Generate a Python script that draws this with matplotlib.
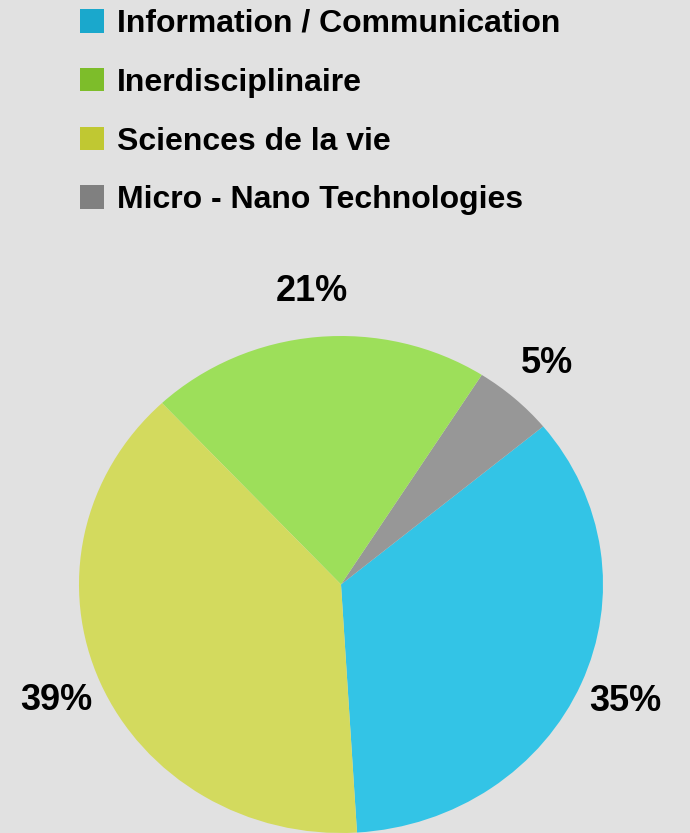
import matplotlib.pyplot as plt
from matplotlib.patches import Patch

plt.rcParams['font.family'] = ['Liberation Sans', 'DejaVu Sans']
plt.rcParams['font.weight'] = 'bold'

# legend order
categories = ["Information / Communication", "Inerdisciplinaire",
              "Sciences de la vie", "Micro - Nano Technologies"]
shares = [35, 21, 39, 5]
legendColors = ["#1aa8cc", "#7dbd2a", "#c0c832", "#808080"]
pieColors = ["#33c4e6", "#9ddf5a", "#d3da5e", "#979797"]

# order of the slices going round the pie (counterclockwise)
pieOrder = [0, 3, 1, 2]

fig = plt.figure(figsize=(6.9, 8.33), dpi=100)
fig.patch.set_facecolor("#e1e1e1")

ax = fig.add_axes([79/690, 0, 524/690, 497/833])
ax.pie([shares[i] for i in pieOrder],
       colors=[pieColors[i] for i in pieOrder],
       startangle=-86.5, counterclock=True,
       autopct="%d%%", pctdistance=1.185,
       textprops={"fontsize": 26, "fontweight": "bold", "color": "black"},
       wedgeprops={"linewidth": 0})
ax.set_aspect("auto")
ax.set_xlim(-1, 1)
ax.set_ylim(-1, 1)
ax.axis("off")

handles = [Patch(facecolor=c, edgecolor="none") for c in legendColors]
fig.legend(handles, categories, loc="upper left",
           bbox_to_anchor=(80/690, 1 - 9/833), frameon=False,
           prop={"size": 23, "weight": "bold"},
           handlelength=0.75, handleheight=0.75, handletextpad=0.4,
           labelspacing=0.9, borderpad=0, borderaxespad=0)

fig.savefig("out.png", dpi=100, facecolor=fig.get_facecolor())
